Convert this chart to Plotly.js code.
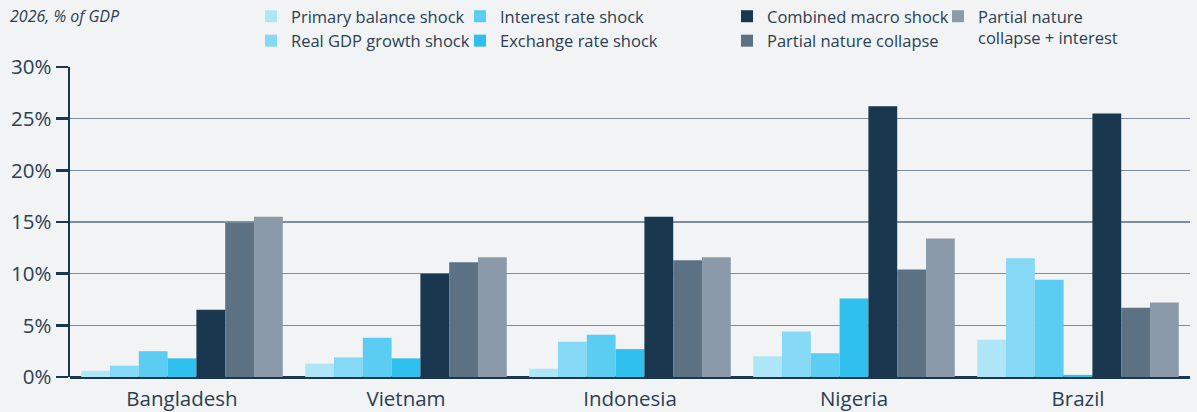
<!DOCTYPE html>
<html><head><meta charset="utf-8">
<script src="https://cdn.plot.ly/plotly-3.0.1.min.js"></script>
<style>html,body{margin:0;padding:0;background:#f2f3f5;}#chart{width:1197px;height:412px;}</style>
</head><body><div id="chart"></div>
<script>
const countries = ["Bangladesh", "Vietnam", "Indonesia", "Nigeria", "Brazil"];
const seriesNames = ["Primary balance shock", "Real GDP growth shock", "Interest rate shock", "Exchange rate shock", "Combined macro shock", "Partial nature collapse", "Partial nature<br>collapse + interest"];
const primaryBalance = [0.6, 1.3, 0.8, 2.0, 3.6];
const realGdpGrowth = [1.1, 1.9, 3.4, 4.4, 11.5];
const interestRate = [2.5, 3.8, 4.1, 2.3, 9.4];
const exchangeRate = [1.8, 1.8, 2.7, 7.6, 0.2];
const combinedMacro = [6.5, 10.0, 15.5, 26.2, 25.5];
const natureCollapse = [14.9, 11.1, 11.3, 10.4, 6.7];
const natureInterest = [15.5, 11.6, 11.6, 13.4, 7.2];
const yTickVals = [0, 5, 10, 15, 20, 25, 30];
const yTickText = ["0%", "5%", "10%", "15%", "20%", "25%", "30%"];

const seriesValues = [primaryBalance, realGdpGrowth, interestRate, exchangeRate, combinedMacro, natureCollapse, natureInterest];
const colors = ["#aee6f8", "#86d9f5", "#5bcdf2", "#2fc0f0", "#19374f", "#5d7185", "#8b9aa8"];
const legendIds = ["legend", "legend", "legend2", "legend2", "legend3", "legend3", "legend4"];
const textColor = "#2a3e54";
const font = "'Open Sans', sans-serif";

const traces = seriesValues.map((vals, i) => ({
  type: "bar", x: countries, y: vals, name: seriesNames[i],
  marker: {color: colors[i], line: {width: 0}},
  legend: legendIds[i], hoverinfo: "skip"
}));

const L = 70, T = 67, W = 1120, H = 310;
const px = X => (X - L) / W;
const py = Y => (T + H - Y) / H;
const legendCommon = (x) => ({
  x: px(x), xanchor: "left", y: py(-1), yanchor: "top", orientation: "v",
  bgcolor: "rgba(0,0,0,0)", borderwidth: 0, traceorder: "normal",
  font: {family: font, size: 16.5, color: textColor}, valign: "top",
  itemclick: false, itemdoubleclick: false
});

const layout = {
  width: 1197, height: 412,
  margin: {l: L, r: 1197 - L - W, t: T, b: 412 - T - H, pad: 0, autoexpand: false},
  paper_bgcolor: "#f2f3f5", plot_bgcolor: "#f2f3f5",
  font: {family: font, color: textColor},
  barmode: "group", bargap: 0.1, bargroupgap: 0,
  showlegend: true,
  legend: legendCommon(251),
  legend2: legendCommon(460),
  legend3: legendCommon(727),
  legend4: legendCommon(938),
  xaxis: {
    type: "category", showgrid: false, zeroline: false, showline: false,
    ticks: "", ticklabelstandoff: 7, automargin: false,
    tickfont: {family: font, size: 20.5, color: textColor}, fixedrange: true
  },
  yaxis: {
    range: [0, 30], tickvals: yTickVals, ticktext: yTickText, automargin: false,
    showgrid: true, gridcolor: "#7f8e9e", gridwidth: 1.3,
    zeroline: true, zerolinecolor: "#19374f", zerolinewidth: 3,
    showline: true, linecolor: "#19374f", linewidth: 2.5,
    ticks: "outside", ticklen: 12, tickwidth: 2.5, tickcolor: "#19374f",
    tickfont: {family: font, size: 20.5, color: textColor}, fixedrange: true
  },
  annotations: [{
    text: "<i>2026, % of GDP</i>", xref: "paper", yref: "paper",
    x: px(8), xanchor: "left", y: py(16), yanchor: "middle", showarrow: false,
    font: {family: font, size: 16, color: textColor}
  }]
};
Plotly.newPlot("chart", traces, layout, {displayModeBar: false, staticPlot: true});
</script></body></html>
